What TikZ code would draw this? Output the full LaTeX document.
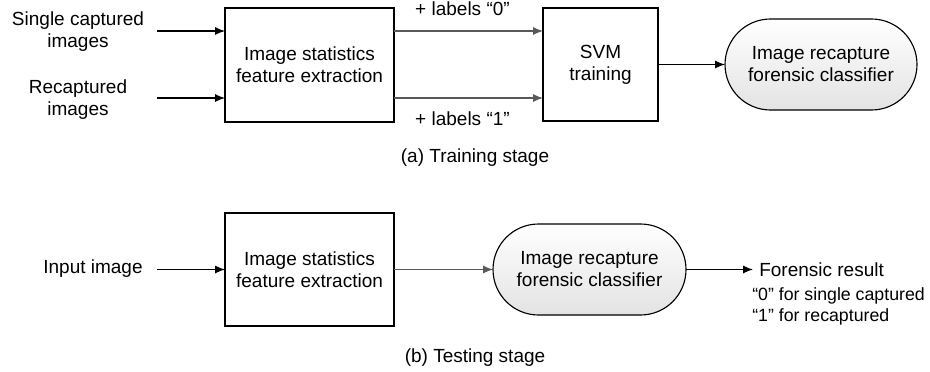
\documentclass[tikz,border=0pt]{standalone}
\usepackage{fontspec}
\setmainfont{Liberation Sans}
\usetikzlibrary{arrows.meta,shapes.misc}
\begin{document}
\begin{tikzpicture}[x=0.75pt,y=-0.75pt,
  font=\fontsize{14.25}{16.5}\selectfont,
  box/.style={draw=black,line width=0.85pt,inner sep=0pt,outer sep=0pt,align=center},
  stad/.style={draw=black,line width=0.85pt,rounded rectangle,rounded rectangle arc length=180,
    top color=white,bottom color=gray!22,inner sep=0pt,outer sep=0pt,align=center},
  arr/.style={line width=0.85pt,-{Latex[length=7.5pt,width=6pt]}},
  garr/.style={draw=black!65,line width=0.85pt,-{Latex[length=7.5pt,width=6pt]}},
  lbl/.style={align=center,inner sep=0pt},
  small/.style={font=\fontsize{13.3}{15.75}\selectfont}]
\useasboundingbox (0,0) rectangle (930,371);
% ---- training stage ----
\node[lbl] (in1) at (78,32) {Single captured\\images};
\node[lbl] (in2) at (78,99.5) {Recaptured\\images};
\node[box,minimum width=126.75pt,minimum height=85.5pt] (fe1) at (309.5,65) {Image statistics\\feature extraction};
\node[box,minimum width=86.25pt,minimum height=84.75pt] (svm) at (600.5,64.5) {SVM\\training};
\node[stad,minimum width=144pt,minimum height=68.25pt] (cl1) at (821,64.5) {Image recapture\\forensic classifier};
\coordinate (s1) at (157,31);
\coordinate (s2) at (157,98);
\draw[arr] (s1) -- (s1 -| fe1.west);
\draw[arr] (s2) -- (s2 -| fe1.west);
\coordinate (g1) at (394,31);
\coordinate (g2) at (394,98);
\draw[garr] (g1 -| fe1.east) -- (g1 -| svm.west);
\draw[garr] (g2 -| fe1.east) -- (g2 -| svm.west);
\node[lbl] (l0) at (462.5,9) {+ labels ``0''};
\node[lbl] (l1) at (462.5,119) {+ labels ``1''};
\draw[arr] (svm.east) -- (cl1.west);
\node[lbl] (capa) at (475,158) {(a) Training stage};
% ---- testing stage ----
\node[lbl] (in3) at (93,269) {Input image};
\node[box,minimum width=126.75pt,minimum height=84.75pt] (fe2) at (309.5,269.5) {Image statistics\\feature extraction};
\node[stad,minimum width=144.75pt,minimum height=68.25pt] (cl2) at (589.5,269.5) {Image recapture\\forensic classifier};
\coordinate (s3) at (157,269.5);
\draw[arr] (s3) -- (fe2.west);
\draw[garr] (fe2.east) -- (cl2.west);
\node[lbl,anchor=west] (res) at (759,269.5) {Forensic result};
\draw[arr] (cl2.east) -- ([xshift=-4.5pt]res.west);
\node[lbl,small,anchor=north west,align=left] (expl) at (752,287) {``0'' for single captured\\``1'' for recaptured};
\node[lbl] (capb) at (475,358) {(b) Testing stage};
\end{tikzpicture}
\end{document}
